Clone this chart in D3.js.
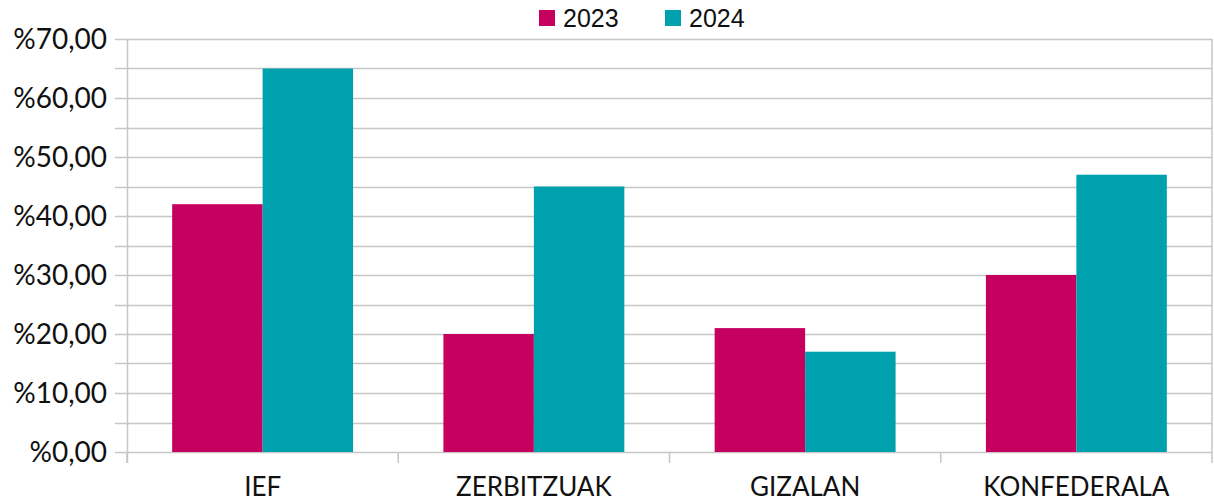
<!DOCTYPE html>
<html>
<head>
<meta charset="utf-8">
<script src="https://cdn.jsdelivr.net/npm/d3@7"></script>
<style>
  body { margin: 0; background: #fff; }
</style>
</head>
<body>
<div id="chart"></div>
<script>
// categories and series values (percent)
const categories = ["IEF", "ZERBITZUAK", "GIZALAN", "KONFEDERALA"];
const seriesNames = ["2023", "2024"];
const values2023 = [42, 20, 21, 30];
const values2024 = [65, 45, 17, 47];
const seriesColors = ["#c5005f", "#00a1ae"];
const yTicks = [0, 10, 20, 30, 40, 50, 60, 70];
const yMinorTicks = [0, 5, 10, 15, 20, 25, 30, 35, 40, 45, 50, 55, 60, 65, 70];

const width = 1214;
const height = 499;
const marginTop = 39;
const marginRight = 2;
const marginBottom = 47;
const marginLeft = 127;

const data = categories.map((c, i) => ({ cat: c, vals: [values2023[i], values2024[i]] }));

const svg = d3.select("#chart").append("svg")
    .attr("width", width)
    .attr("height", height)
    .attr("viewBox", [0, 0, width, height]);

//scales
const x = d3.scaleBand(categories, [marginLeft, width - marginRight])
    .paddingInner(0.333)
    .paddingOuter(0.1665);
const xSub = d3.scaleBand(seriesNames, [0, x.bandwidth()]);
const y = d3.scaleLinear([0, 70], [height - marginBottom, marginTop]);

//gridlines every 5
svg.append("g")
    .selectAll("line")
    .data(yMinorTicks)
    .join("line")
    .attr("x1", marginLeft - 12)
    .attr("x2", width - marginRight)
    .attr("y1", d => Math.round(y(d)) + 0.5)
    .attr("y2", d => Math.round(y(d)) + 0.5)
    .attr("stroke", "#c6c6c6")
    .attr("stroke-width", 1.5);

//bars
svg.append("g")
    .selectAll("g")
    .data(data)
    .join("g")
    .attr("transform", d => `translate(${x(d.cat)},0)`)
    .selectAll("rect")
    .data(d => d.vals.map((v, i) => ({ key: seriesNames[i], v, i })))
    .join("rect")
    .attr("x", d => xSub(d.key))
    .attr("width", xSub.bandwidth())
    .attr("y", d => y(d.v))
    .attr("height", d => y(0) - y(d.v))
    .attr("fill", d => seriesColors[d.i]);

//left axis line
svg.append("line")
    .attr("x1", marginLeft + 0.5).attr("x2", marginLeft + 0.5)
    .attr("y1", marginTop).attr("y2", height - marginBottom + 11)
    .attr("stroke", "#c6c6c6").attr("stroke-width", 1.5);

//category separators below the baseline
const step = x.step();
const seps = d3.range(categories.length + 1).map(i => marginLeft + i * step);
svg.append("g")
    .selectAll("line")
    .data(seps)
    .join("line")
    .attr("x1", d => Math.min(d, width - 1.5))
    .attr("x2", d => Math.min(d, width - 1.5))
    .attr("y1", d => d >= width - 3 ? marginTop : y(0))
    .attr("y2", y(0) + 11)
    .attr("stroke", "#c6c6c6")
    .attr("stroke-width", 1.5);

//y labels
svg.append("g")
    .attr("font-family", "Lato, sans-serif")
    .attr("font-size", 28)
    .attr("fill", "#111")
    .attr("text-anchor", "end")
    .selectAll("text")
    .data(yTicks)
    .join("text")
    .attr("x", marginLeft - 20)
    .attr("y", d => y(d))
    .attr("dy", "0.36em")
    .text(d => "%" + d3.format(".2f")(d).replace(".", ","));

//x labels
svg.append("g")
    .attr("font-family", "Lato, sans-serif")
    .attr("font-size", 26)
    .attr("fill", "#111")
    .attr("text-anchor", "middle")
    .selectAll("text")
    .data(categories)
    .join("text")
    .attr("x", d => x(d) + x.bandwidth() / 2)
    .attr("y", height - 3)
    .text(d => d);

//legend
const legendX = [539, 665];
const legend = svg.append("g")
    .selectAll("g")
    .data(seriesNames)
    .join("g")
    .attr("transform", (d, i) => `translate(${legendX[i]},10)`);
legend.append("rect")
    .attr("width", 16).attr("height", 16)
    .attr("fill", (d, i) => seriesColors[i]);
legend.append("text")
    .attr("x", 24)
    .attr("y", 17)
    .attr("font-family", "Liberation Sans, Arial, sans-serif")
    .attr("font-size", 25)
    .attr("fill", "#111")
    .text(d => d);
</script>
</body>
</html>
